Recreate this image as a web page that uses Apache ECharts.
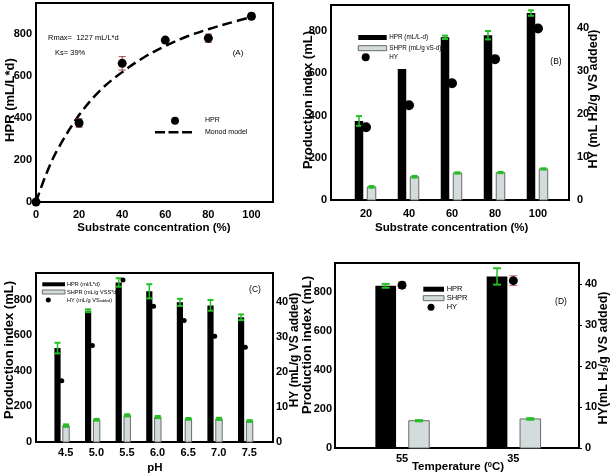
<!DOCTYPE html>
<html><head><meta charset="utf-8">
<script src="https://cdn.jsdelivr.net/npm/echarts@6/dist/echarts.min.js"></script>
<style>html,body{margin:0;padding:0;background:#fff}#c{width:614px;height:475px}</style>
</head><body><div id="c"></div>
<script>
// ---------- data ----------
// Panel A
const aConc = [0, 20, 40, 60, 80, 100];
const aHPR = [0, 377, 662, 773, 782, 887];
const aHPRErr = [0, 20, 32, 8, 20, 14];
const monodConc = [0, 5, 10, 20, 30, 40, 50, 60, 70, 80, 90, 100];
const monodHPR = [0, 140, 250, 415, 535, 620, 690, 745, 790, 825, 855, 883];
// Panel B
const bConc = [20, 40, 60, 80, 100];
const bHPR = [374, 620, 770, 780, 885];
const bHPRErr = [23, 0, 8, 20, 13];
const bSHPR = [62, 110, 128, 130, 147];
const bSHPRErr = [4, 4, 3, 3, 3];
const bHY = [16.9, 22.0, 27.1, 32.7, 39.8];
// Panel C
const cPH = [4.5, 5.0, 5.5, 6.0, 6.5, 7.0, 7.5];
const cHPR = [528, 738, 897, 847, 785, 768, 701];
const cHPRErr = [30, 8, 24, 40, 20, 30, 16];
const cSHPR = [92, 125, 150, 140, 130, 130, 118];
const cSHPRErr = [7, 5, 6, 6, 5, 6, 5];
const cHY = [17.5, 27.6, 46.3, 38.8, 34.7, 30.2, 27.1];
// Panel D
const dTemp = ['55', '35'];
const dHPR = [832, 880];
const dHPRErr = [10, 42];
const dSHPR = [140, 149];
const dSHPRErr = [3, 4];
const dHY = [39.7, 40.8];
const dHYErr = [0.8, 1.2];
// tick values
const leftTicks = [0, 200, 400, 600, 800];
const rightTicks = [0, 10, 20, 30, 40];

// ---------- helpers ----------
const FF = '"Liberation Sans", Arial, sans-serif';
const FN = '"Liberation Sans Narrow", "Liberation Sans", Arial, sans-serif';
const GREEN = '#22c022';
const GREY_FILL = '#d3dcdc';
const GREY_LINE = '#6a6a6a';

function pairs(xs, ys, es) { return xs.map((x, i) => es ? [x, ys[i], es[i]] : [x, ys[i]]); }

function barRender(offset, width, fill, stroke) {
  return function (params, api) {
    const x = api.value(0), y = api.value(1);
    const base = api.coord([x, 0]);
    const top = api.coord([x, y]);
    return { type: 'rect', shape: { x: base[0] + offset - width / 2, y: top[1], width: width, height: base[1] - top[1] },
      style: { fill: fill, stroke: stroke || null, lineWidth: stroke ? 1 : 0 } };
  };
}
function errRender(offset, cap, color, lw, capLw) {
  return function (params, api) {
    const x = api.value(0), y = api.value(1), e = api.value(2);
    if (!e) return { type: 'group', children: [] };
    const hi = api.coord([x, y + e]), lo = api.coord([x, y - e]);
    const cx = hi[0] + offset;
    return { type: 'group', children: [
      { type: 'line', shape: { x1: cx, y1: hi[1], x2: cx, y2: lo[1] }, style: { stroke: color, lineWidth: lw } },
      { type: 'line', shape: { x1: cx - cap / 2, y1: hi[1], x2: cx + cap / 2, y2: hi[1] }, style: { stroke: color, lineWidth: capLw } },
      { type: 'line', shape: { x1: cx - cap / 2, y1: lo[1], x2: cx + cap / 2, y2: lo[1] }, style: { stroke: color, lineWidth: capLw } }
    ] };
  };
}
function custom(xi, yi, data, render, z) {
  return { type: 'custom', xAxisIndex: xi, yAxisIndex: yi, data: data, renderItem: render, encode: { x: 0, y: 1 }, z: z || 2, silent: true, clip: false };
}
function scatter(xi, yi, data, size) {
  return { type: 'scatter', xAxisIndex: xi, yAxisIndex: yi, data: data, symbolSize: size, itemStyle: { color: '#000', opacity: 1 }, silent: true, z: 4 };
}
const lblBold = { fontFamily: FF, fontWeight: 'bold', fontSize: 11, color: '#000' };
function yAxisL(gi, max, margin) {
  return { type: 'value', gridIndex: gi, min: 0, max: max, position: 'left',
    axisLine: { show: false }, axisTick: { show: false }, splitLine: { show: false },
    axisLabel: Object.assign({ customValues: leftTicks, margin: margin }, lblBold) };
}
function yAxisR(gi, max, margin, tick) {
  return { type: 'value', gridIndex: gi, min: 0, max: max, position: 'right',
    axisLine: { show: false }, splitLine: { show: false },
    axisTick: { show: !!tick, customValues: rightTicks, length: 3, lineStyle: { color: '#000', width: 1 } },
    axisLabel: Object.assign({ customValues: rightTicks, margin: margin, align: 'left' }, lblBold) };
}
function xAxisV(gi, min, max, vals, margin, fmt, extra) {
  return { type: 'value', gridIndex: gi, min: min, max: max,
    axisLine: { show: false }, axisTick: { show: false }, splitLine: { show: false },
    axisLabel: Object.assign({ customValues: vals, margin: margin, formatter: fmt }, lblBold, extra || {}) };
}
function txt(x, y, text, font, opts) {
  opts = opts || {};
  return { type: 'text', x: x, y: y, rotation: opts.rot || 0, silent: true, z: 100,
    style: { text: text, font: font, fill: '#000', align: opts.align || 'center', verticalAlign: 'middle',
      textAlign: opts.align || 'center', textVerticalAlign: 'middle', rich: opts.rich } };
}
function rect(x, y, w, h, fill, stroke) {
  return { type: 'rect', silent: true, z: 100, shape: { x: x, y: y, width: w, height: h }, style: { fill: fill, stroke: stroke || null, lineWidth: stroke ? 1 : 0 } };
}
function dot(cx, cy, r) {
  return { type: 'circle', silent: true, z: 100, shape: { cx: cx, cy: cy, r: r }, style: { fill: '#000' } };
}
const R90 = Math.PI / 2;
const titleFont = 'bold 13px ' + FF;
const xTitleFont = 'bold 11.5px ' + FF;

const chart = echarts.init(document.getElementById('c'), null, { renderer: 'canvas' });
const option = {
  animation: false,
  backgroundColor: '#fff',
  grid: [
    { left: 36, top: 3, width: 237, height: 199, show: true, borderColor: '#000', borderWidth: 2, backgroundColor: 'transparent' },
    { left: 331, top: 5, width: 238, height: 195, show: true, borderColor: '#000', borderWidth: 2, backgroundColor: 'transparent' },
    { left: 36, top: 273, width: 237, height: 169, show: true, borderColor: '#000', borderWidth: 2, backgroundColor: 'transparent' },
    { left: 335, top: 263, width: 244, height: 185, show: true, borderColor: '#000', borderWidth: 2, backgroundColor: 'transparent' }
  ],
  xAxis: [
    xAxisV(0, 0, 110, aConc, 7, v => String(v)),
    xAxisV(1, 3.72, 114.42, bConc, 8, v => String(v)),
    xAxisV(2, 4.079, 7.952, cPH, 5, v => v.toFixed(1), { padding: [0, 0, 0, 8] }),
    xAxisV(3, -0.602, 1.590, dTemp.map((t, i) => i), 5, v => dTemp[Math.round(v)])
  ],
  yAxis: [
    yAxisL(0, 950, 4),
    yAxisL(1, 923, 4),
    yAxisR(1, 45.27, 8, false),
    yAxisL(2, 950, 4),
    yAxisR(2, 48.3, 3, false),
    yAxisL(3, 949, 3),
    yAxisR(3, 45.1, 6, true)
  ],
  series: [
    // ---- A ----
    { type: 'line', xAxisIndex: 0, yAxisIndex: 0, data: pairs(monodConc, monodHPR), smooth: 0.35, showSymbol: false, silent: true,
      lineStyle: { color: '#000', width: 2.5, type: [10, 5] }, z: 2 },
    custom(0, 0, pairs(aConc, aHPR, aHPRErr), errRender(0, 7, '#a04545', 1, 1), 3),
    scatter(0, 0, pairs(aConc, aHPR), 9),
    // ---- B ----
    custom(1, 1, pairs(bConc, bHPR), barRender(-7, 8.5, '#000'), 2),
    custom(1, 1, pairs(bConc, bSHPR), barRender(5.5, 8.5, GREY_FILL, GREY_LINE), 2),
    custom(1, 1, pairs(bConc, bHPR, bHPRErr), errRender(-7, 6, GREEN, 1.5, 2), 3),
    custom(1, 1, pairs(bConc, bSHPR, bSHPRErr), errRender(5.5, 6, GREEN, 1.5, 2), 3),
    scatter(1, 2, pairs(bConc, bHY), 10),
    // ---- C ----
    custom(2, 3, pairs(cPH, cHPR), barRender(-4.25, 6.2, '#000'), 2),
    custom(2, 3, pairs(cPH, cSHPR), barRender(4.25, 6.4, GREY_FILL, GREY_LINE), 2),
    custom(2, 3, pairs(cPH, cHPR, cHPRErr), errRender(-4.25, 6, GREEN, 1.5, 2), 3),
    custom(2, 3, pairs(cPH, cSHPR, cSHPRErr), errRender(4.25, 6, GREEN, 2, 2), 3),
    scatter(2, 4, pairs(cPH, cHY), 5),
    // ---- D ----
    custom(3, 5, dHPR.map((v, i) => [i, v]), barRender(-16.3, 20.7, '#000'), 2),
    custom(3, 5, dSHPR.map((v, i) => [i, v]), barRender(17, 20.5, GREY_FILL, GREY_LINE), 2),
    custom(3, 5, dHPR.map((v, i) => [i, v, dHPRErr[i]]), errRender(-16.3, 8, GREEN, 1.5, 2), 3),
    custom(3, 5, dSHPR.map((v, i) => [i, v, dSHPRErr[i]]), errRender(17, 8, GREEN, 1.5, 2), 3),
    custom(3, 6, dHY.map((v, i) => [i, v, dHYErr[i]]), errRender(0, 8, '#e07070', 1, 1), 3),
    scatter(3, 6, dHY.map((v, i) => [i, v]), 9)
  ],
  graphic: [
    // A
    txt(10, 100, 'HPR (mL/L*d)', titleFont, { rot: R90 }),
    txt(154, 228, 'Substrate concentration (%)', xTitleFont),
    txt(48, 38, 'Rmax=  1227 mL/L*d', '7.5px ' + FN, { align: 'left' }),
    txt(55, 53, 'Ks= 39%', '7.5px ' + FN, { align: 'left' }),
    txt(238, 53, '(A)', '8px ' + FN),
    dot(175, 120.7, 4),
    { type: 'line', silent: true, z: 100, shape: { x1: 155, y1: 132.3, x2: 192, y2: 132.3 }, style: { stroke: '#000', lineWidth: 2.5, lineDash: [10, 3.5] } },
    txt(205, 120.5, 'HPR', '7px ' + FN, { align: 'left' }),
    txt(205, 132.5, 'Monod model', '7px ' + FN, { align: 'left' }),
    // B
    txt(308.5, 100, 'Production index (mL)', titleFont, { rot: R90 }),
    txt(593.5, 99, 'HY (mL H2/g VS added)', 'bold 12.5px ' + FF, { rot: R90 }),
    txt(451.7, 228, 'Substrate concentration (%)', xTitleFont),
    rect(358.3, 35, 28.4, 5, '#000'),
    txt(389.3, 37.7, 'HPR (mL/L-d)', '6.3px ' + FN, { align: 'left' }),
    rect(358.3, 45.7, 28.4, 5, GREY_FILL, GREY_LINE),
    txt(389.3, 48.2, 'SHPR (mL/g vS-d)', '6.3px ' + FN, { align: 'left' }),
    dot(365.7, 57.3, 4),
    txt(389.3, 57.5, 'HY', '6.3px ' + FN, { align: 'left' }),
    txt(556, 61.7, '(B)', '8.5px ' + FN),
    // C
    txt(9, 350, 'Production index (mL)', titleFont, { rot: R90 }),
    txt(295, 350, 'HY (mL/g VS added)', 'bold 12px ' + FF, { rot: R90 }),
    txt(155, 468, 'pH', xTitleFont),
    rect(42.3, 282.3, 22.7, 4, '#000'),
    txt(67, 284.3, 'HPR (ml/L*d)', '5.6px ' + FN, { align: 'left' }),
    rect(42.3, 290, 22.7, 4, GREY_FILL, GREY_LINE),
    txt(67, 292.2, 'SHPR (mL/g VSS*d)', '5.6px ' + FN, { align: 'left' }),
    dot(48.3, 300, 2.5),
    txt(67, 300.2, 'HY (mL/g VS{s|added})', '5.6px ' + FN, { align: 'left', rich: { s: { fontSize: 3.8, fontFamily: FN, verticalAlign: 'bottom', lineHeight: 5 } } }),
    txt(255, 289.3, '(C)', '8.5px ' + FN),
    // D
    txt(307, 345, 'Production index (mL)', titleFont, { rot: R90 }),
    txt(603.5, 358, 'HY(mL H{s|2}/g VS added)', 'bold 12.5px ' + FF, { rot: R90, rich: { s: { fontSize: 8, fontWeight: 'bold', fontFamily: FF, verticalAlign: 'bottom', lineHeight: 8 } } }),
    txt(458, 467, 'Temperature ({p|0}C)', xTitleFont, { rich: { p: { fontSize: 7.5, fontWeight: 'bold', fontFamily: FF, verticalAlign: 'top', lineHeight: 7 } } }),
    rect(423.3, 286.7, 20.7, 5, '#000'),
    txt(446.7, 289.2, 'HPR', '7.5px ' + FN, { align: 'left' }),
    rect(423.3, 295.7, 20.7, 5, GREY_FILL, GREY_LINE),
    txt(446.7, 298.2, 'SHPR', '7.5px ' + FN, { align: 'left' }),
    dot(431, 307.3, 3.5),
    txt(446.7, 307.3, 'HY', '7.5px ' + FN, { align: 'left' }),
    txt(561, 301.7, '(D)', '8.5px ' + FN)
  ]
};
chart.setOption(option);
</script>
</body></html>
